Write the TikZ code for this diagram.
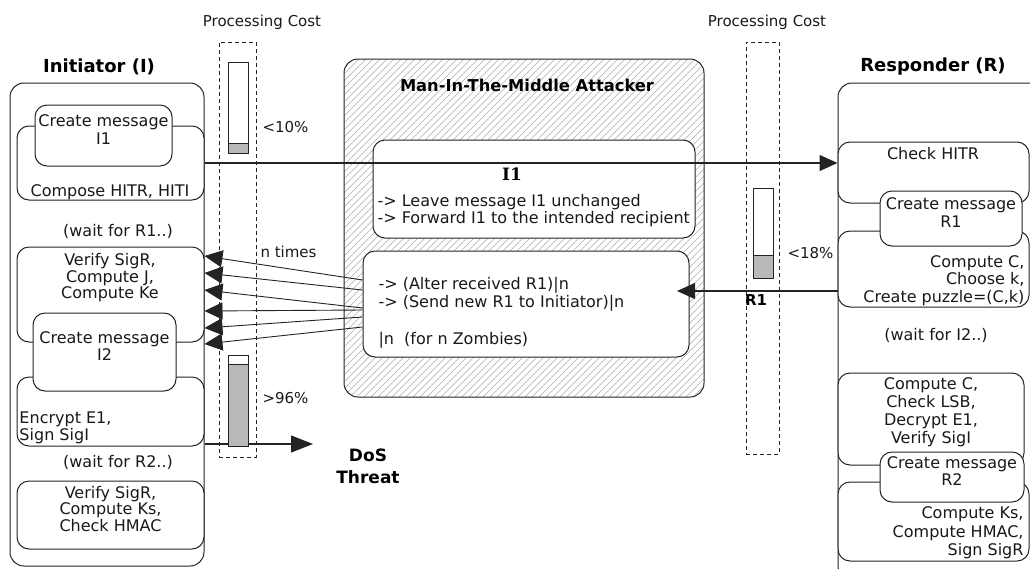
\documentclass[tikz,border=0pt]{standalone}
\definecolor{lineGray}{RGB}{35, 35, 35}
\definecolor{hatchGray}{RGB}{175, 175, 175}
\definecolor{barGray}{RGB}{185, 185, 185}
\definecolor{textDark}{RGB}{25, 25, 25}
\usepackage{fontspec}
\setmainfont{DejaVu Sans}
\newfontfamily\serifbold{DejaVu Serif}
\usetikzlibrary{arrows.meta, fit, calc}

\begin{document}
\begin{tikzpicture}[
    x=1pt, y=-1pt,
    line width=1pt,
    partbox/.style={draw=lineGray, rounded corners=14pt, inner sep=0pt},
    stepbox/.style={draw=lineGray, fill=white, rounded corners=12pt, inner sep=0pt},
    msgbox/.style={stepbox, font=\fontsize{16}{17.5}\selectfont, align=center, text=textDark},
    txt/.style={font=\fontsize{16}{17}\selectfont, align=center, inner sep=0pt, text=textDark},
    small/.style={font=\fontsize{15}{17}\selectfont, inner sep=0pt, text=textDark},
    title/.style={font=\bfseries\fontsize{18}{20}\selectfont, inner sep=0pt, text=black, align=center},
    costcol/.style={draw=lineGray, dash pattern=on 4pt off 3pt, inner sep=0pt},
    bar/.style={draw=lineGray, line width=0.9pt},
    hatch/.style={draw=hatchGray, line width=0.6pt},
    msgarrow/.style={-{Triangle[length=18pt, width=16pt]}, draw=lineGray, line width=1.1pt},
    fanarrow/.style={-{Triangle[length=18pt, width=17pt]}, draw=lineGray, line width=0.9pt},
  ]
  \useasboundingbox (0,0) rectangle (1030,568);
  \clip (0,0) rectangle (1030,568);

  % Initiator side
  \node[partbox, fit={(10,83) (204,566)}] (init) {};
  \node[stepbox, fit={(17,126) (204,200)}] (compose) {};
  \node[msgbox, fit={(35,105) (172,166)}] (msgI1) {Create message\\I1};
  \node[stepbox, fit={(17,247) (204,342)}] (verifyR) {};
  \node[stepbox, fit={(17,377) (204,446)}] (encrypt) {};
  \node[msgbox, fit={(33,313) (176,391)}] (msgI2) {Create message\\I2};
  \node[msgbox, fit={(17,481) (204,549)}, font=\fontsize{16}{16.5}\selectfont] (verifyKs)
    {Verify SigR,\\Compute Ks,\\Check HMAC};

  % Attacker (hatched)
  \begin{scope}
    \clip[rounded corners=14pt] (344,59) rectangle (704,397);
    \foreach \x in {0,7,...,714}
      \draw[hatch] (\x,397) -- ++(338,-338);
  \end{scope}
  \node[partbox, fit={(344,59) (704,397)}] (mitm) {};
  \node[stepbox, fit={(373,140) (695,238)}] (fwdI1) {};
  \node[stepbox, fit={(363,251) (689,357)}] (alter) {};

  % Responder side
  \node[partbox, fit={(838,83) (1060,580)}] (resp) {};
  \node[stepbox, fit={(838,142) (1029,203)}] (hitr) {};
  \node[stepbox, fit={(838,231) (1029,307)}] (puzzle) {};
  \node[msgbox, fit={(880,191) (1022,246)}] (msgR1) {Create message\\R1};
  \node[stepbox, fit={(838,373) (1024,465)}] (lsb) {};
  \node[stepbox, fit={(838,482) (1029,561)}] (ks) {};
  \node[msgbox, fit={(880,452) (1024,502)}] (msgR2) {Create message\\R2};

  % Messages
  \coordinate (dosTip) at (313,444);
  \coordinate (r1Tip) at (677,291);
  \draw[msgarrow, -{Triangle[length=22pt, width=17pt]}] (encrypt.east |- dosTip) -- (dosTip);
  \draw[msgarrow] (compose.east) -- (compose.east -| hitr.west);
  \draw[msgarrow] (r1Tip -| puzzle.west) -- (r1Tip);
  \foreach \s/\t in {280/256, 290/273, 308/290, 310/311, 317/328, 327/344}
    \draw[fanarrow] (alter.west |- 0,\s) -- (verifyR.east |- 0,\t);

  % Processing cost columns
  \node[costcol, fit={(219,42) (256,457)}] (costL) {};
  \node[costcol, fit={(746,42) (779,454)}] (costR) {};
  \draw[bar, fill=white] (228,62) rectangle (248,153);
  \draw[bar, fill=barGray] (228,143) rectangle (248,153);
  \draw[bar, fill=white] (228,355) rectangle (248,446);
  \draw[bar, fill=barGray] (228,364) rectangle (248,446);
  \draw[bar, fill=white] (753,188) rectangle (773,278);
  \draw[bar, fill=barGray] (753,255) rectangle (773,278);

  % Titles
  \node[small] (costLTitle) at (262,22) {Processing Cost};
  \node[small] (costRTitle) at (767,22) {Processing Cost};
  \node[title] (initTitle) at (99,67) {Initiator (I)};
  \node[title] (respTitle) at (933,67) {Responder (R)};
  \node[title, font=\bfseries\fontsize{16.3}{18}\selectfont] (mitmTitle) at (527,85)
    {Man-In-The-Middle Attacker};

  % Initiator texts
  \node[txt] (composeTxt) at (110,192) {Compose HITR, HITI};
  \node[txt] (waitR1) at (118,231) {(wait for R1..)};
  \node[txt, font=\fontsize{16}{16.5}\selectfont] (verifyTxt) at (110,278)
    {Verify SigR,\\Compute J,\\Compute Ke};
  \node[txt, align=left, anchor=west] (encryptTxt) at (19,428) {Encrypt E1,\\Sign SigI};
  \node[txt] (waitR2) at (118,462) {(wait for R2..)};

  % Attacker texts
  \node[font=\serifbold\bfseries\fontsize{17}{19}\selectfont, inner sep=0pt] (i1Txt) at (512,174) {I1};
  \node[txt, align=left, anchor=west] (fwdTxt) at (377,210.5)
    {-> Leave message I1 unchanged\\-> Forward I1 to the intended recipient};
  \node[txt, align=left, anchor=west, font=\fontsize{16}{18.3}\selectfont] (alterTxt) at (378,312.5)
    {-> (Alter received R1)|n\\-> (Send new R1 to Initiator)|n\\[18.3pt]|n~~(for n Zombies)};
  \node[small, anchor=west] (nTimes) at (260,252) {n times};

  % Responder texts
  \node[txt] (hitrTxt) at (933,154) {Check HITR};
  \node[txt, align=right, anchor=east, font=\fontsize{16}{17.5}\selectfont] (puzzleTxt) at (1025,280.5)
    {Compute C,\\Choose k,\\Create puzzle=(C,k)};
  \node[txt] (waitI2) at (936,335) {(wait for I2..)};
  \node[txt, font=\fontsize{16}{18}\selectfont] (lsbTxt) at (931,412)
    {Compute C,\\Check LSB,\\Decrypt E1,\\Verify SigI};
  \node[txt, align=right, anchor=east, font=\fontsize{16}{18.5}\selectfont] (ksTxt) at (1024,533)
    {Compute Ks,\\Compute HMAC,\\Sign SigR};

  % Cost labels
  \node[small, anchor=west] (pctI1) at (262,127) {<10\%};
  \node[small, anchor=west] (pctI2) at (262,398) {>96\%};
  \node[small, anchor=west] (pctR1) at (787,253) {<18\%};
  \node[title, font=\bfseries\fontsize{15}{17}\selectfont] (r1Lbl) at (756,300) {R1};
  \node[title, font=\bfseries\fontsize{17}{22}\selectfont] (dosLbl) at (368,466) {DoS\\Threat};
\end{tikzpicture}
\end{document}
